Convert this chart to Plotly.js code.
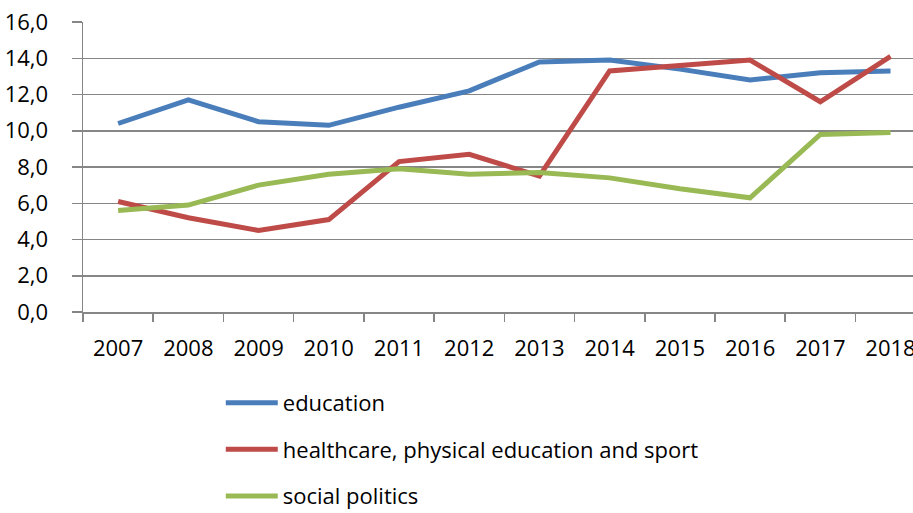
<!DOCTYPE html>
<html>
<head>
<meta charset="utf-8">
<script src="https://cdn.plot.ly/plotly-3.0.1.min.js"></script>
<style>html,body{margin:0;padding:0;overflow:hidden;background:#fff}</style>
</head>
<body>
<div id="chart" style="width:913px;height:513px"></div>
<script>
const years = ["2007","2008","2009","2010","2011","2012","2013","2014","2015","2016","2017","2018"];
const education = [10.4, 11.7, 10.5, 10.3, 11.3, 12.2, 13.8, 13.9, 13.4, 12.8, 13.2, 13.3];
const healthcare = [6.1, 5.2, 4.5, 5.1, 8.3, 8.7, 7.5, 13.3, 13.6, 13.9, 11.6, 14.1];
const socialPolitics = [5.6, 5.9, 7.0, 7.6, 7.9, 7.6, 7.7, 7.4, 6.8, 6.3, 9.8, 9.9];
const seriesNames = ["education", "healthcare, physical education and sport", "social politics"];
const colors = ["#4A7EBB", "#BE4B48", "#98B954"];

const allSeries = [education, healthcare, socialPolitics];
const traces = allSeries.map((vals, i) => ({
  type: "scatter",
  mode: "lines",
  x: years,
  y: vals,
  name: seriesNames[i],
  legendgroup: "g" + i,
  line: {color: colors[i], width: 5},
  hoverinfo: "x+y+name"
}));

const font = {family: "Open Sans, Noto Sans, sans-serif", size: 22, color: "#000"};
const layout = {
  width: 913, height: 513,
  margin: {l: 83, r: 0, t: 21.5, b: 201, pad: 0, autoexpand: false},
  paper_bgcolor: "#fff", plot_bgcolor: "#fff",
  separators: ", ",
  font: font,
  showlegend: true,
  legend: {
    x: 0.166, xanchor: "left", y: -0.241, yanchor: "top",
    orientation: "v", tracegroupgap: 15, itemwidth: 52,
    font: font, bgcolor: "rgba(0,0,0,0)", traceorder: "grouped"
  },
  xaxis: {
    type: "category",
    range: [-0.5, 11.32],
    showgrid: false, automargin: false,
    showline: true, linecolor: "#868686", linewidth: 1.5,
    ticks: "outside", tickson: "boundaries", ticklen: 8, tickcolor: "#868686", tickwidth: 1.5,
    ticklabelstandoff: 16,
    tickfont: font, zeroline: false, fixedrange: true
  },
  yaxis: {
    range: [0, 16], dtick: 2, tick0: 0,
    tickformat: ".1f", automargin: false,
    showgrid: true, gridcolor: "#868686", gridwidth: 1.5,
    showline: true, linecolor: "#868686", linewidth: 1.5,
    ticks: "outside", ticklen: 10, tickcolor: "#868686", tickwidth: 1.5,
    ticklabelstandoff: 19,
    zeroline: false, tickfont: font, fixedrange: true
  }
};

Plotly.newPlot("chart", traces, layout, {displayModeBar: false, staticPlot: true});
</script>
</body>
</html>
